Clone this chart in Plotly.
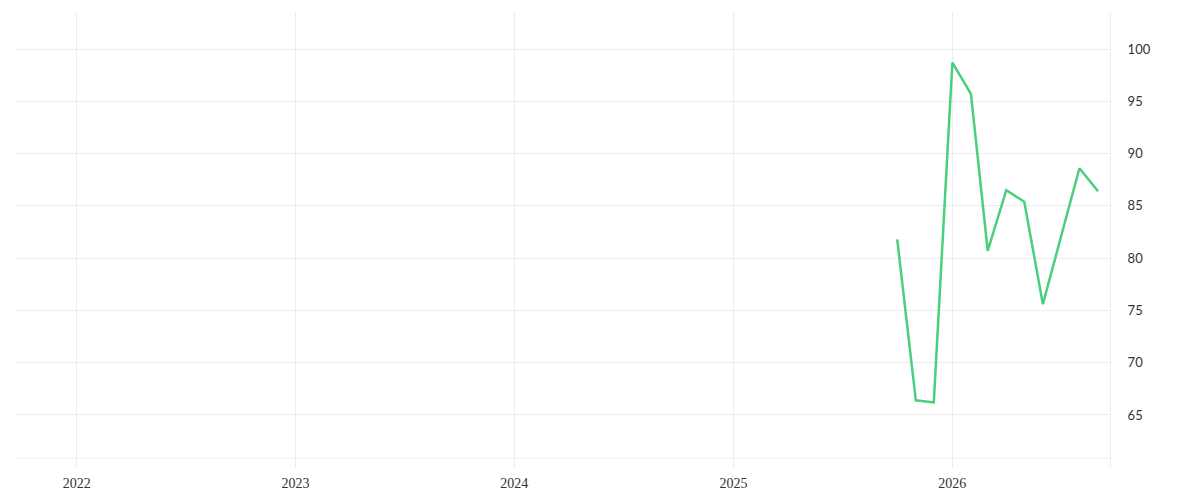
import plotly.graph_objects as go

dates = ["2025-10-01", "2025-11-01", "2025-12-01", "2026-01-01", "2026-02-01",
         "2026-03-01", "2026-04-01", "2026-05-01", "2026-06-01", "2026-07-01",
         "2026-08-01", "2026-09-01"]
values = [81.8, 66.4, 66.2, 98.7, 95.7, 80.7, 86.5, 85.4, 75.6, 82.0, 88.6, 86.4]

x_range = ["2021-09-20", "2026-09-21"]
y_range = [59.93, 103.54]
y_ticks = [65, 70, 75, 80, 85, 90, 95, 100]

grid = "#ececec"

fig = go.Figure()
fig.add_trace(go.Scatter(
    x=dates, y=values, mode="lines",
    line=dict(color="#4ad07c", width=2.5),
    hoverinfo="x+y", showlegend=False,
))

fig.add_shape(type="line", xref="x domain", yref="y domain",
              x0=0, x1=1, y0=0.022, y1=0.022,
              line=dict(color=grid, width=1), layer="below")

fig.update_layout(
    width=1192, height=492,
    margin=dict(l=7, r=90, t=4, b=32),
    paper_bgcolor="white", plot_bgcolor="white",
    xaxis=dict(
        type="date", range=x_range, dtick="M12", tick0="2022-01-01",
        tickformat="%Y", showgrid=True, gridcolor=grid, gridwidth=1,
        zeroline=False, showline=False, ticks="",
        tickfont=dict(family="Liberation Serif", size=14, color="#333"),
        ticklabelstandoff=5,
    ),
    yaxis=dict(
        side="right", range=y_range, tickvals=y_ticks,
        showgrid=True, gridcolor=grid, gridwidth=1,
        zeroline=False, showline=True, linecolor=grid, linewidth=1,
        ticks="", tickfont=dict(family="Lato", size=13, color="#333"),
        ticklabelstandoff=14,
    ),
)

fig.write_html("out.html")
